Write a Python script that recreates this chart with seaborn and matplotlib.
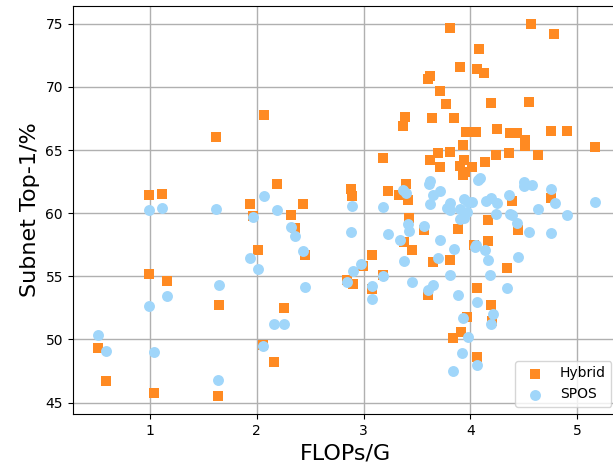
import numpy as np
import pandas as pd
import matplotlib
matplotlib.use('Agg')
import matplotlib.pyplot as plt
import seaborn as sns

# Hybrid subnets (FLOPs in G, top-1 in %)
hybrid_flops = [0.51, 0.59, 0.99, 1.11, 0.99, 1.16, 1.04, 1.62, 1.65, 1.64,
                2.07, 1.94, 1.96, 2.01, 2.19, 2.32, 2.36, 2.43, 2.45, 2.25,
                2.06, 2.16, 2.88, 2.89, 2.84, 2.90, 3.08, 2.99, 3.08, 3.18,
                3.18, 3.23, 3.33, 3.37, 3.39, 3.40, 3.42, 3.43, 3.38, 3.45,
                3.60, 3.62, 3.64, 3.72, 3.77, 3.81, 3.85, 3.90, 4.06, 4.13,
                4.08, 4.19, 4.57, 4.78, 4.55, 3.96, 4.05, 4.25, 4.37, 4.44,
                4.51, 4.51, 4.76, 4.91, 5.17, 4.63, 4.36, 4.24, 4.14, 3.93,
                3.70, 3.81, 3.62, 3.72, 3.90, 3.94, 4.02, 3.93, 3.95, 4.39,
                4.76, 4.17, 3.57, 3.88, 4.03, 4.17, 4.45, 3.65, 3.81, 4.34,
                3.60, 4.06, 4.19, 4.20, 3.97, 3.84, 3.91, 4.06]
hybrid_top1 = [49.34, 46.75, 61.42, 61.55, 55.15, 54.60, 45.77, 66.01, 52.70, 45.56,
               67.81, 60.73, 59.75, 57.11, 62.29, 59.83, 58.85, 60.70, 56.69, 52.51,
               49.58, 48.20, 61.92, 61.34, 54.68, 54.39, 56.69, 55.81, 53.99, 55.10,
               64.38, 61.76, 61.44, 66.91, 67.63, 62.29, 61.07, 59.65, 57.72, 57.11,
               70.61, 70.82, 67.57, 69.64, 68.63, 74.63, 67.55, 71.56, 71.38, 71.06,
               73.02, 68.74, 74.97, 74.21, 68.79, 66.41, 66.41, 66.65, 66.38, 66.38,
               65.83, 65.35, 66.49, 66.49, 65.20, 64.64, 64.77, 64.59, 64.06, 65.38,
               64.77, 64.83, 64.19, 63.66, 63.74, 64.19, 63.66, 63.00, 63.27, 60.99,
               61.21, 59.46, 58.67, 58.75, 57.51, 57.80, 58.67, 56.13, 56.26, 55.63,
               53.54, 54.10, 52.75, 51.45, 51.82, 50.11, 50.63, 48.65]

# SPOS subnets
spos_flops = [0.51, 0.59, 0.99, 1.11, 0.99, 1.16, 1.04, 1.62, 1.65, 1.64,
              2.07, 1.96, 1.94, 2.01, 2.19, 2.32, 2.36, 2.43, 2.45, 2.16,
              2.25, 2.06, 2.89, 2.88, 2.90, 2.84, 2.98, 3.08, 3.08, 3.18,
              3.18, 3.23, 3.37, 3.40, 3.42, 3.43, 3.34, 3.38, 3.45, 3.61,
              3.62, 3.65, 3.62, 3.72, 3.57, 3.72, 3.70, 3.65, 3.60, 3.81,
              3.78, 3.81, 3.90, 3.94, 3.98, 4.02, 3.97, 3.90, 3.94, 3.85,
              3.81, 3.88, 3.93, 3.92, 3.84, 3.98, 4.07, 4.09, 4.05, 4.04,
              4.14, 4.17, 4.18, 4.06, 4.21, 4.19, 4.06, 4.15, 4.19, 4.25,
              4.24, 4.36, 4.37, 4.39, 4.44, 4.45, 4.34, 4.50, 4.50, 4.58,
              4.55, 4.63, 4.76, 4.79, 4.76, 4.91, 5.17]
spos_top1 = [50.37, 49.07, 60.23, 60.44, 52.62, 53.44, 49.02, 60.33, 54.33, 46.80,
             61.39, 59.67, 56.45, 55.55, 60.25, 58.91, 58.19, 56.98, 54.18, 51.19,
             51.24, 49.52, 60.60, 58.48, 55.42, 54.55, 56.00, 54.20, 53.20, 55.05,
             60.47, 58.38, 61.81, 61.60, 59.12, 58.59, 57.90, 56.18, 54.57, 62.29,
             62.58, 61.42, 60.73, 61.79, 58.99, 57.90, 56.47, 54.31, 53.89, 60.84,
             60.41, 60.28, 60.31, 61.10, 60.89, 60.91, 60.07, 59.51, 59.65, 57.19,
             55.07, 53.49, 51.72, 48.97, 47.49, 50.16, 62.63, 62.79, 57.51, 57.35,
             57.11, 56.29, 55.13, 52.93, 52.03, 51.19, 47.99, 60.94, 61.23, 60.78,
             59.91, 61.47, 59.96, 59.88, 59.25, 56.55, 54.04, 62.50, 62.18, 62.26,
             58.48, 60.33, 61.95, 60.78, 58.46, 59.88, 60.89]

hybrid_df = pd.DataFrame({'FLOPs': hybrid_flops, 'Top1': hybrid_top1})
spos_df = pd.DataFrame({'FLOPs': spos_flops, 'Top1': spos_top1})

fig = plt.figure(figsize=(6.13, 4.72), dpi=100)
ax = fig.add_axes([0.1186, 0.1231, 0.89, 0.865])

sns.scatterplot(data=hybrid_df, x='FLOPs', y='Top1', marker='s', s=62,
                color='#ff8a22', linewidth=0, label='Hybrid', ax=ax)
sns.scatterplot(data=spos_df, x='FLOPs', y='Top1', marker='o', s=62,
                color='#a0d6fa', linewidth=0, label='SPOS', ax=ax)

ax.set_xlim(0.275, 5.386)
ax.set_ylim(44.11, 76.43)
ax.set_xticks([1, 2, 3, 4, 5])
ax.set_yticks([45, 50, 55, 60, 65, 70, 75])
ax.grid(True, color='#b0b0b0', linewidth=1)
ax.set_axisbelow(True)
ax.tick_params(labelsize=10)

ax.set_xlabel('FLOPs/G', fontsize=16)
ax.set_ylabel('Subnet Top-1/%', fontsize=16)
ax.legend(loc='lower right', fontsize=10)

plt.savefig('out.png', dpi=100)
